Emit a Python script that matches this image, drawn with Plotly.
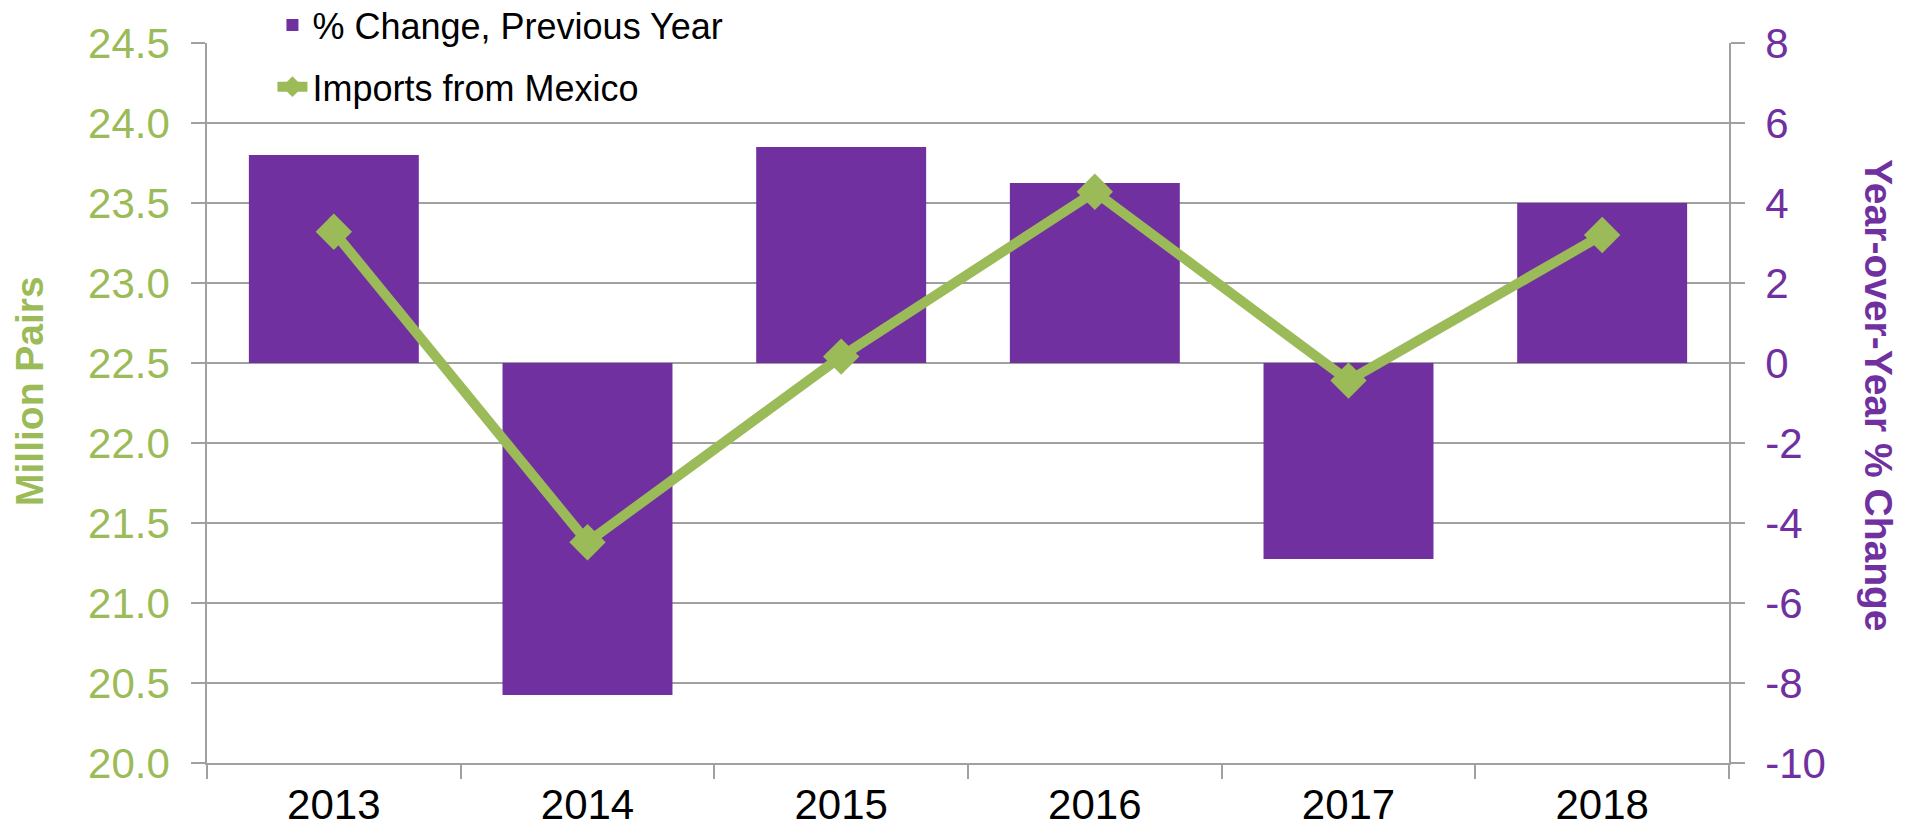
import plotly.graph_objects as go

# data
years = ["2013", "2014", "2015", "2016", "2017", "2018"]
imports_mexico = [23.32, 21.38, 22.54, 23.57, 22.39, 23.30]   # million pairs
pct_change = [5.2, -8.3, 5.4, 4.5, -4.9, 4.0]                 # % change, previous year

left_ticks = [20.0, 20.5, 21.0, 21.5, 22.0, 22.5, 23.0, 23.5, 24.0, 24.5]
right_ticks = [-10, -8, -6, -4, -2, 0, 2, 4, 6, 8]

green = "#9BBB59"
purple = "#7030A0"
grid = "#A0A0A0"
sans = "Liberation Sans, Arial"

fig = go.Figure()

# bars on the primary axis (drawn underneath), shown on the right side
fig.add_trace(go.Bar(x=years, y=pct_change,
                     name="% Change, Previous Year",
                     legendgroup="a",
                     marker=dict(color=purple, line=dict(width=0)),
                     yaxis="y"))

# line on the overlaying axis so it is drawn on top of the bars
fig.add_trace(go.Scatter(x=years, y=imports_mexico,
                         mode="lines+markers",
                         name="Imports from Mexico",
                         legendgroup="b",
                         line=dict(color=green, width=10),
                         marker=dict(color=green, symbol="diamond", size=28),
                         yaxis="y2"))

# plot area: x 207..1729, y 43..763 (720 px = 9 grid steps)
fig.update_layout(
    width=1907, height=832,
    margin=dict(l=207, r=178, t=43, b=69, autoexpand=False),
    plot_bgcolor="white", paper_bgcolor="white",
    bargap=0.33,
    font=dict(family=sans, color="black"),
    showlegend=True,
    legend=dict(x=0.043, y=1 + 48 / 720, xanchor="left", yanchor="top",
                bgcolor="white", font=dict(size=36, family=sans, color="black"),
                traceorder="grouped", tracegroupgap=12),
    xaxis=dict(type="category", tickson="boundaries", ticks="outside", ticklen=14,
               tickcolor=grid, tickwidth=1.5, showline=True, linecolor=grid, linewidth=1.5,
               showgrid=False, ticklabelstandoff=4,
               tickfont=dict(size=42, family=sans, color="black")),
    yaxis=dict(side="right", range=[-10, 8], tickvals=right_ticks,
               ticktext=[str(v) for v in right_ticks],
               ticks="outside", ticklen=14, tickcolor=grid, tickwidth=1.5,
               showline=True, linecolor=grid, linewidth=1.5,
               showgrid=True, gridcolor=grid, gridwidth=1.5, zeroline=False,
               ticklabelstandoff=12,
               tickfont=dict(size=42, family=sans, color=purple)),
    yaxis2=dict(side="left", overlaying="y", range=[20.0, 24.5], tickvals=left_ticks,
                ticktext=[f"{v:.1f}" for v in left_ticks],
                ticks="outside", ticklen=14, tickcolor=grid, tickwidth=1.5,
                showline=True, linecolor=grid, linewidth=1.5,
                showgrid=False, zeroline=False,
                ticklabelstandoff=13,
                tickfont=dict(size=42, family=sans, color=green)),
)

# axis titles as annotations (right one reads top to bottom)
fig.add_annotation(text="<b>Million Pairs</b>", xref="paper", yref="paper",
                   x=(30 - 207) / 1522, y=(763 - 391) / 720, textangle=-90,
                   xanchor="center", yanchor="middle",
                   showarrow=False, font=dict(size=39, family=sans, color=green))
fig.add_annotation(text="<b>Year-over-Year % Change</b>", xref="paper", yref="paper",
                   x=(1879 - 207) / 1522, y=(763 - 395) / 720, textangle=90,
                   xanchor="center", yanchor="middle",
                   showarrow=False, font=dict(size=39, family=sans, color=purple))

# drop the default 8px body margin so the figure fills the window exactly
fig.write_html("out.html",
               config={"displayModeBar": False},
               post_script="document.body.style.margin='0';document.body.style.overflow='hidden';")
